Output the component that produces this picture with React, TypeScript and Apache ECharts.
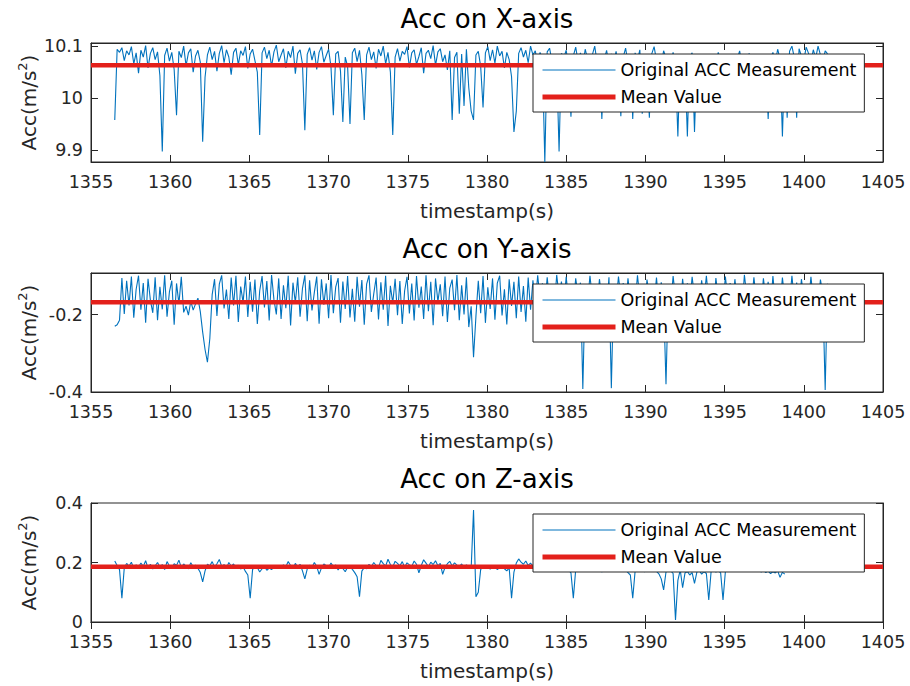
import React, { useEffect, useRef } from "react";
import * as echarts from "echarts";

// Accelerometer samples, one every SAMPLE_STEP seconds from T_START.
const T_START = 1356.5;
const SAMPLE_STEP = 0.15;

const ACC_X = [
  9.958, 10.094, 10.088, 10.097, 10.072, 10.091, 10.083, 10.099, 10.066, 10.087,
  10.048, 10.092, 10.079, 10.101, 10.058, 10.086, 10.097, 10.074, 10.089, 10.043,
  9.897, 10.082, 10.096, 10.071, 10.088, 10.055, 9.967, 10.09, 10.078, 10.1,
  10.062, 10.087, 10.095, 10.05, 10.081, 10.092, 10.069, 9.916, 10.04, 10.083,
  10.098, 10.074, 10.09, 10.052, 10.086, 10.101, 10.068, 10.093, 10.079, 10.045,
  10.088, 10.096, 10.064, 10.091, 10.082, 10.099, 10.057, 10.085, 10.094, 10.072,
  10.05, 9.929, 10.087, 10.098, 10.076, 10.092, 10.061, 10.089, 10.102, 10.07,
  10.083, 10.095, 10.058, 10.09, 10.078, 10.1, 10.047, 10.086, 10.093, 10.066,
  9.938, 10.084, 10.097, 10.073, 10.091, 10.055, 10.088, 10.099, 10.069, 10.082,
  10.094, 10.06, 9.967, 10.085, 10.09, 10.052, 9.954, 10.079, 10.061, 9.95,
  10.087, 10.096, 10.07, 10.092, 10.045, 9.958, 10.083, 10.098, 10.074, 10.089,
  10.057, 10.094, 10.081, 10.1, 10.066, 10.088, 10.05, 9.929, 10.079, 10.095,
  10.071, 10.09, 10.084, 10.099, 10.059, 10.087, 10.093, 10.065, 10.08, 10.097,
  10.048, 10.086, 10.092, 10.076, 10.101, 10.063, 10.089, 10.095, 10.07, 10.083,
  10.054, 10.091, 9.958, 10.078, 10.088, 9.97, 10.085, 9.985, 10.094, 10.02,
  9.975, 9.958, 10.083, 10.09, 10.061, 9.982, 10.087, 10.099, 10.072, 10.093,
  10.067, 10.1, 10.081, 10.09, 10.058, 10.088, 10.074, 10.041, 9.935, 9.975,
  10.086, 10.097, 10.079, 10.092, 10.068, 10.1, 10.083, 10.091, 10.064, 10.088,
  10.075, 9.877, 10.089, 10.096, 10.071, 10.082, 10.066, 9.897, 10.086, 10.078,
  10.092, 10.06, 9.964, 10.081, 10.098, 10.07, 10.087, 10.063, 10.094, 10.075,
  10.058, 10.083, 10.1, 10.069, 10.08, 9.96, 10.074, 10.092, 10.065, 10.085,
  10.071, 10.09, 10.062, 9.965, 10.079, 10.096, 10.068, 10.083, 9.96, 10.087,
  10.074, 10.093, 9.97, 10.081, 10.066, 9.962, 10.085, 10.099, 10.072, 10.079,
  10.064, 10.091, 10.077, 10.083, 10.07, 10.088, 10.06, 9.926, 10.082, 10.075,
  10.068, 9.926, 10.079, 10.087, 9.935, 10.073, 10.081, 10.066, 10.077, 10.07,
  10.083, 10.062, 10.075, 10.069, 10.088, 10.071, 10.064, 10.079, 10.073, 10.067,
  10.081, 10.07, 10.076, 10.091, 10.063, 10.078, 10.072, 10.086, 10.069, 10.074,
  10.08, 10.066, 10.073, 10.084, 10.071, 9.96, 10.077, 10.088, 10.069, 10.094,
  10.075, 9.926, 10.083, 9.962, 10.09, 10.1, 10.078, 9.962, 10.095, 10.081,
  10.072, 10.098, 10.086, 10.069, 10.093, 10.077, 10.1, 10.083, 10.07, 10.091, 10.085,
];

const ACC_Y = [
  -0.23, -0.226, -0.214, -0.105, -0.198, -0.112, -0.176, -0.101, -0.208, -0.134,
  -0.099, -0.187, -0.118, -0.221, -0.107, -0.163, -0.195, -0.103, -0.214, -0.128,
  -0.186, -0.098, -0.205, -0.141, -0.112, -0.226, -0.119, -0.172, -0.102, -0.194,
  -0.178, -0.201, -0.165, -0.188, -0.172, -0.157, -0.192, -0.245, -0.29, -0.323,
  -0.262, -0.148, -0.108, -0.203, -0.121, -0.098, -0.184, -0.135, -0.211, -0.104,
  -0.176, -0.099, -0.219, -0.127, -0.168, -0.101, -0.206, -0.115, -0.192, -0.109,
  -0.224, -0.138, -0.1, -0.181, -0.113, -0.215, -0.097, -0.161, -0.199, -0.106,
  -0.211, -0.124, -0.183, -0.099, -0.228, -0.117, -0.169, -0.103, -0.205, -0.132,
  -0.098, -0.217, -0.111, -0.189, -0.142, -0.101, -0.223, -0.108, -0.174, -0.119,
  -0.209, -0.097, -0.196, -0.128, -0.105, -0.221, -0.114, -0.185, -0.1, -0.207,
  -0.133, -0.218, -0.102, -0.179, -0.11, -0.226, -0.121, -0.098, -0.193, -0.146,
  -0.104, -0.212, -0.116, -0.187, -0.099, -0.229, -0.125, -0.17, -0.107, -0.201,
  -0.113, -0.224, -0.138, -0.102, -0.197, -0.119, -0.215, -0.1, -0.182, -0.127,
  -0.211, -0.098, -0.191, -0.115, -0.227, -0.106, -0.166, -0.121, -0.204, -0.101,
  -0.219, -0.131, -0.109, -0.188, -0.097, -0.214, -0.124, -0.199, -0.103, -0.232,
  -0.178, -0.31, -0.205, -0.112, -0.196, -0.1, -0.221, -0.129, -0.185, -0.106,
  -0.213, -0.118, -0.099, -0.202, -0.134, -0.225, -0.108, -0.177, -0.115, -0.209,
  -0.101, -0.193, -0.126, -0.218, -0.104, -0.187, -0.111, -0.171, -0.098, -0.158,
  -0.119, -0.176, -0.103, -0.164, -0.125, -0.181, -0.097, -0.152, -0.114, -0.17,
  -0.102, -0.163, -0.128, -0.178, -0.106, -0.149, -0.117, -0.392, -0.124, -0.166,
  -0.099, -0.157, -0.121, -0.174, -0.108, -0.16, -0.131, -0.185, -0.103, -0.39,
  -0.126, -0.168, -0.101, -0.155, -0.118, -0.179, -0.106, -0.162, -0.134, -0.171,
  -0.098, -0.158, -0.122, -0.183, -0.109, -0.151, -0.127, -0.169, -0.104, -0.176,
  -0.116, -0.161, -0.38, -0.13, -0.174, -0.1, -0.156, -0.123, -0.182, -0.107,
  -0.165, -0.119, -0.171, -0.102, -0.153, -0.128, -0.177, -0.111, -0.16, -0.099,
  -0.168, -0.124, -0.181, -0.105, -0.154, -0.132, -0.173, -0.101, -0.159, -0.118,
  -0.176, -0.108, -0.163, -0.125, -0.18, -0.097, -0.152, -0.12, -0.17, -0.103,
  -0.161, -0.129, -0.178, -0.106, -0.157, -0.115, -0.184, -0.1, -0.167, -0.122,
  -0.174, -0.104, -0.159, -0.127, -0.171, -0.099, -0.162, -0.117, -0.179, -0.108,
  -0.155, -0.121, -0.169, -0.102, -0.16, -0.126, -0.175, -0.109, -0.148, -0.395, -0.12,
];

const ACC_Z = [
  0.205, 0.19, 0.176, 0.08, 0.182, 0.197, 0.188, 0.201, 0.179, 0.192,
  0.184, 0.198, 0.187, 0.206, 0.181, 0.194, 0.178, 0.189, 0.2, 0.185,
  0.193, 0.176, 0.203, 0.188, 0.182, 0.196, 0.19, 0.208, 0.183, 0.195,
  0.187, 0.179, 0.199, 0.186, 0.191, 0.181, 0.166, 0.135, 0.172, 0.194,
  0.189, 0.203, 0.184, 0.196, 0.21, 0.187, 0.193, 0.18, 0.2, 0.188,
  0.195, 0.182, 0.191, 0.178, 0.186, 0.17, 0.158, 0.08, 0.176, 0.19,
  0.183, 0.168, 0.179, 0.187, 0.174, 0.181, 0.176, 0.185, 0.18, 0.189,
  0.184, 0.192, 0.186, 0.203, 0.19, 0.181, 0.197, 0.185, 0.194, 0.172,
  0.145, 0.178, 0.191, 0.184, 0.2, 0.187, 0.16, 0.182, 0.195, 0.189,
  0.183, 0.198, 0.186, 0.192, 0.175, 0.188, 0.18, 0.169, 0.185, 0.19,
  0.177, 0.166, 0.152, 0.085, 0.171, 0.183, 0.179, 0.194, 0.186, 0.2,
  0.19, 0.182, 0.207, 0.196, 0.188, 0.211, 0.193, 0.185, 0.204, 0.197,
  0.189, 0.203, 0.184, 0.199, 0.192, 0.187, 0.205, 0.194, 0.165, 0.19,
  0.209, 0.198, 0.186, 0.201, 0.193, 0.206, 0.189, 0.197, 0.16, 0.184,
  0.196, 0.204, 0.188, 0.199, 0.191, 0.186, 0.195, 0.183, 0.192, 0.187,
  0.18, 0.376, 0.085, 0.1, 0.176, 0.19, 0.181, 0.186, 0.178, 0.184,
  0.19, 0.176, 0.183, 0.188, 0.179, 0.172, 0.182, 0.08, 0.168, 0.198,
  0.212, 0.201, 0.194, 0.205, 0.19, 0.198, 0.186, 0.193, 0.183, 0.189,
  0.177, 0.184, 0.18, 0.171, 0.186, 0.179, 0.175, 0.182, 0.17, 0.178,
  0.183, 0.174, 0.165, 0.08, 0.176, 0.181, 0.173, 0.185, 0.179, 0.169,
  0.182, 0.176, 0.187, 0.172, 0.18, 0.168, 0.184, 0.177, 0.173, 0.181,
  0.175, 0.186, 0.17, 0.179, 0.183, 0.174, 0.166, 0.158, 0.08, 0.171,
  0.18, 0.184, 0.176, 0.169, 0.182, 0.178, 0.173, 0.186, 0.17, 0.162,
  0.145, 0.108, 0.168, 0.177, 0.172, 0.163, 0.007, 0.14, 0.175, 0.115,
  0.165, 0.17, 0.158, 0.166, 0.13, 0.168, 0.174, 0.161, 0.169, 0.163,
  0.074, 0.171, 0.176, 0.168, 0.173, 0.165, 0.074, 0.17, 0.178, 0.181,
  0.175, 0.183, 0.179, 0.186, 0.18, 0.174, 0.184, 0.177, 0.172, 0.179,
  0.176, 0.182, 0.168, 0.174, 0.166, 0.171, 0.163, 0.169, 0.165, 0.172,
  0.15, 0.167, 0.161,
];

const MEAN_X = 10.063;
const MEAN_Y = -0.168;
const MEAN_Z = 0.186;

const TITLES = ["Acc on X-axis", "Acc on Y-axis", "Acc on Z-axis"];
const SERIES_NAMES = ["Original ACC Measurement", "Mean Value"];
const X_LABEL = "timestamp(s)";
const TIME_MIN = 1355;
const TIME_MAX = 1405;
const TIME_STEP = 5;
const Y_LIMITS = [
  [9.877, 10.106],
  [-0.4, -0.092],
  [0, 0.4],
];
const Y_TICKS = [
  [9.9, 10, 10.1],
  [-0.4, -0.2],
  [0, 0.2, 0.4],
];

const FONT = "DejaVu Sans";
const INK = "#262626";
const BLUE = "#0072BD";
const RED = "#E3201B";

const PANEL_TOPS = [43, 273, 503];
const PANEL_HEIGHT = 119;

function buildOption() {
  const panels = [
    { values: ACC_X, mean: MEAN_X },
    { values: ACC_Y, mean: MEAN_Y },
    { values: ACC_Z, mean: MEAN_Z },
  ];

  const grid: any[] = [];
  const xAxis: any[] = [];
  const yAxis: any[] = [];
  const series: any[] = [];
  const legend: any[] = [];
  const title: any[] = [];

  const tickStyle = { show: true, inside: true, length: 7, lineStyle: { color: INK, width: 1 } };
  const lineStyle = { show: true, lineStyle: { color: INK, width: 1 } };

  panels.forEach((p, k) => {
    const top = PANEL_TOPS[k];
    grid.push({
      left: 91,
      right: 27,
      top,
      height: PANEL_HEIGHT,
      show: true,
      borderColor: INK,
      borderWidth: 1,
      backgroundColor: "#fff",
    });

    title.push({
      text: TITLES[k],
      left: 487,
      top: top - 37,
      textAlign: "center",
      padding: 0,
      textStyle: { fontFamily: FONT, fontSize: 26, fontWeight: "normal", color: "#000" },
    });

    // bottom axis with labels, top axis mirrors the ticks
    xAxis.push({
      type: "value",
      gridIndex: k,
      position: "bottom",
      min: TIME_MIN,
      max: TIME_MAX,
      interval: TIME_STEP,
      axisLine: lineStyle,
      axisTick: tickStyle,
      splitLine: { show: false },
      axisLabel: {
        fontFamily: FONT,
        fontSize: 17.5,
        color: INK,
        margin: 11,
        formatter: (v: number) => String(v),
      },
      name: X_LABEL,
      nameLocation: "middle",
      nameGap: 39,
      nameMoveOverlap: false,
      nameTextStyle: { fontFamily: FONT, fontSize: 20, color: INK },
    });
    xAxis.push({
      type: "value",
      gridIndex: k,
      position: "top",
      min: TIME_MIN,
      max: TIME_MAX,
      interval: TIME_STEP,
      axisLine: lineStyle,
      axisTick: tickStyle,
      splitLine: { show: false },
      axisLabel: { show: false },
    });

    yAxis.push({
      type: "value",
      gridIndex: k,
      position: "left",
      min: Y_LIMITS[k][0],
      max: Y_LIMITS[k][1],
      axisLine: lineStyle,
      axisTick: { ...tickStyle, customValues: Y_TICKS[k] },
      splitLine: { show: false },
      axisLabel: {
        fontFamily: FONT,
        fontSize: 17.5,
        color: INK,
        margin: 8,
        customValues: Y_TICKS[k],
        formatter: (v: number) => String(v),
      },
      name: "{a|Acc(m/s}{b|2}{a|)}",
      nameLocation: "middle",
      nameGap: 49,
      nameMoveOverlap: false,
      nameRotate: 90,
      nameTextStyle: {
        color: INK,
        rich: {
          a: { fontFamily: FONT, fontSize: 20, color: INK, lineHeight: 26 },
          b: { fontFamily: FONT, fontSize: 13, color: INK, lineHeight: 12, verticalAlign: "top" },
        },
      },
    });
    yAxis.push({
      type: "value",
      gridIndex: k,
      position: "right",
      min: Y_LIMITS[k][0],
      max: Y_LIMITS[k][1],
      axisLine: lineStyle,
      axisTick: { ...tickStyle, customValues: Y_TICKS[k] },
      splitLine: { show: false },
      axisLabel: { show: false },
    });

    series.push({
      type: "line",
      name: SERIES_NAMES[0],
      xAxisIndex: 2 * k,
      yAxisIndex: 2 * k,
      data: p.values.map((v, i) => [T_START + i * SAMPLE_STEP, v]),
      symbol: "none",
      lineStyle: { color: BLUE, width: 1.1 },
      itemStyle: { color: BLUE },
      z: 2,
    });
    series.push({
      type: "line",
      name: SERIES_NAMES[1],
      xAxisIndex: 2 * k,
      yAxisIndex: 2 * k,
      data: [
        [TIME_MIN, p.mean],
        [TIME_MAX, p.mean],
      ],
      symbol: "none",
      lineStyle: { color: RED, width: 4.5 },
      itemStyle: { color: RED },
      z: 3,
    });

    legend.push({
      orient: "vertical",
      left: 533,
      top: top + 11,
      padding: [6, 8, 5, 7],
      itemWidth: 73,
      itemHeight: 14,
      itemGap: 7,
      backgroundColor: "#fff",
      borderColor: INK,
      borderWidth: 1,
      borderRadius: 0,
      textStyle: { fontFamily: FONT, fontSize: 17.5, color: "#000", lineHeight: 20 },
      selectedMode: false,
      data: [
        { name: SERIES_NAMES[0], itemStyle: { opacity: 0 }, lineStyle: { color: BLUE, width: 1.2 } },
        { name: SERIES_NAMES[1], itemStyle: { opacity: 0 }, lineStyle: { color: RED, width: 5 } },
      ],
    });
  });

  return {
    animation: false,
    backgroundColor: "#fff",
    textStyle: { fontFamily: FONT },
    title,
    grid,
    xAxis,
    yAxis,
    legend,
    series,
  };
}

export default function App() {
  const ref = useRef<HTMLDivElement>(null);

  useEffect(() => {
    if (!ref.current) return;
    const chart = echarts.init(ref.current, undefined, { renderer: "svg" });
    chart.setOption(buildOption() as any);
    return () => chart.dispose();
  }, []);

  return (
    <div
      ref={ref}
      style={{ position: "fixed", left: 0, top: 0, width: 910, height: 686, background: "#fff" }}
    />
  );
}
